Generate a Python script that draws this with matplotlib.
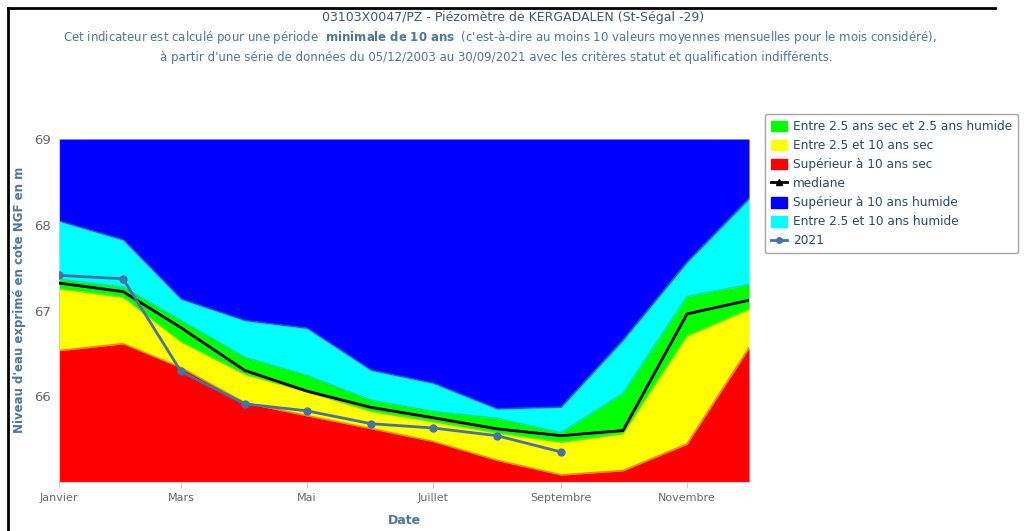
import numpy as np
import pandas as pd
import matplotlib
matplotlib.use("Agg")
import matplotlib.pyplot as plt
from matplotlib.patches import Patch
from matplotlib.lines import Line2D

# Monthly values (m NGF), one per month, January -> December
months = pd.date_range("2021-01-01", periods=12, freq="MS")
sup10_sec = [66.53, 66.61, 66.33, 65.92, 65.77, 65.62, 65.47, 65.25, 65.08, 65.13, 65.44, 66.56]
sec_2_10 = [67.25, 67.15, 66.63, 66.25, 66.05, 65.82, 65.70, 65.57, 65.46, 65.56, 66.70, 67.01]
entre_25 = [67.36, 67.27, 66.88, 66.45, 66.24, 65.95, 65.82, 65.74, 65.57, 66.03, 67.16, 67.30]
hum_2_10 = [68.04, 67.82, 67.13, 66.88, 66.79, 66.30, 66.15, 65.85, 65.87, 66.65, 67.56, 68.30]
mediane = [67.32, 67.22, 66.80, 66.30, 66.06, 65.87, 65.75, 65.62, 65.54, 65.60, 66.96, 67.12]
y2021 = [67.41, 67.37, 66.29, 65.91, 65.83, 65.68, 65.63, 65.54, 65.35]

tick_months = ["Janvier", "Mars", "Mai", "Juillet", "Septembre", "Novembre"]
ymin, ymax = 65, 69

x = np.asarray(months.dayofyear - 1, dtype=float)

fig = plt.figure(figsize=(10.27, 5.31), dpi=100)
plt.rcParams['font.family'] = ['DejaVu Sans']
ax = fig.add_axes([59 / 1027, 1 - 482 / 531, 690 / 1027, 343 / 531])

bands = [
    (np.full(12, ymin), sup10_sec, '#ff0000', '#d00000'),
    (sup10_sec, sec_2_10, '#ffff00', '#d8d800'),
    (sec_2_10, entre_25, '#00ff00', '#00cc00'),
    (entre_25, hum_2_10, '#00ffff', '#33cccc'),
    (hum_2_10, np.full(12, ymax), '#0000ff', '#0000ff'),
]
for lo, hi, col, edge in bands:
    ax.fill_between(x, lo, hi, color=col, lw=0, zorder=1)
for lo, hi, col, edge in bands[:4]:
    ax.plot(x, hi, color=edge, lw=1.6, alpha=0.45, zorder=2)

ax.plot(x, mediane, color='black', lw=2, zorder=4)
ax.plot(x[:len(y2021)], y2021, color='#4572a7', lw=2, marker='o', ms=5, zorder=5)

ax.set_xlim(x[0], x[-1])
ax.set_ylim(ymin, ymax)
ax.set_xticks(x[::2])
ax.set_xticklabels(tick_months, fontsize=8, color='#666666')
ax.set_yticks([66, 67, 68, 69])
ax.tick_params(axis='y', length=0, labelsize=9.5, labelcolor='#666666', pad=6)
ax.tick_params(axis='x', length=4, color='#c0d0e0', pad=4)
for s in ['top', 'right']:
    ax.spines[s].set_visible(False)
ax.spines['bottom'].set_color('#c0d0e0')
ax.spines['left'].set_color('#c0d0e0')

fig.text(20 / 1027, 1 - 300 / 531, "Niveau d'eau exprimé en cote NGF en m", rotation=90,
         ha='center', va='center', fontsize=8.5, color='#4d759e', fontweight='bold')
fig.text(404 / 1027, 1 - 520 / 531, "Date", ha='center', va='center',
         fontsize=9, color='#4d759e', fontweight='bold')

# Titles
fig.text(513 / 1027, 1 - 18 / 531, "03103X0047/PZ - Piézomètre de KERGADALEN (St-Ségal -29)",
         ha='center', va='center', fontsize=9, color='#3e576f')
fig.text(500 / 1027, 1 - 38 / 531,
         "Cet indicateur est calculé pour une période  $\\mathbf{minimale\\ de\\ 10\\ ans}$  "
         "(c'est-à-dire au moins 10 valeurs moyennes mensuelles pour le mois considéré),",
         ha='center', va='center', fontsize=8.5, color='#4d759e')
fig.text(496 / 1027, 1 - 57 / 531,
         "à partir d'une série de données du 05/12/2003 au 30/09/2021 avec les critères statut et "
         "qualification indifférents.",
         ha='center', va='center', fontsize=8.5, color='#4d759e')

# Legend
handles = [
    Patch(color='#00ff00', label="Entre 2.5 ans sec et 2.5 ans humide"),
    Patch(color='#ffff00', label="Entre 2.5 et 10 ans sec"),
    Patch(color='#ff0000', label="Supérieur à 10 ans sec"),
    Line2D([], [], color='black', lw=2, marker='^', ms=5, label="mediane"),
    Patch(color='#0000ff', label="Supérieur à 10 ans humide"),
    Patch(color='#00ffff', label="Entre 2.5 et 10 ans humide"),
    Line2D([], [], color='#4572a7', lw=2, marker='o', ms=4, label="2021"),
]
leg = fig.legend(handles=handles, loc='upper left', bbox_to_anchor=(759 / 1027, 1 - 108 / 531),
                 frameon=True, fontsize=8.7, handlelength=1.3, handleheight=1.0,
                 handletextpad=0.5, labelspacing=0.5, borderpad=0.5,
                 edgecolor='#909090', fancybox=True)
leg.get_frame().set_linewidth(1)
for t in leg.get_texts():
    t.set_color('#274b6d')

# screenshot frame
fig.add_artist(Line2D([8 / 1027, 8 / 1027], [0, 1 - 8 / 531], color='black', lw=2))
fig.add_artist(Line2D([8 / 1027, 995 / 1027], [1 - 8 / 531, 1 - 8 / 531], color='black', lw=2))

fig.savefig("out.png", dpi=100)
